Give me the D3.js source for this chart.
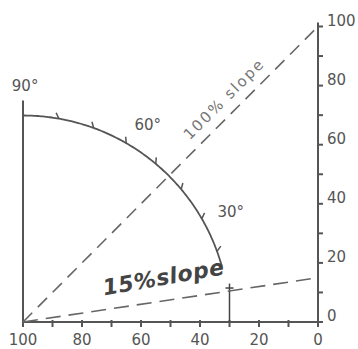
<!DOCTYPE html>
<html>
<head>
<meta charset="utf-8">
<script src="https://cdn.jsdelivr.net/npm/d3@7"></script>
<style>
  body { margin: 0; background: #fff; }
  text { font-family: "DejaVu Sans", sans-serif; fill: #555; }
</style>
</head>
<body>
<div id="chart"></div>
<script>
// values
var xTicks = [100, 90, 80, 70, 60, 50, 40, 30, 20, 10, 0];
var xLabels = [100, 80, 60, 40, 20, 0];
var yTicks = [0, 10, 20, 30, 40, 50, 60, 70, 80, 90, 100];
var yLabels = [0, 20, 40, 60, 80, 100];
var slopes = [100, 15];               // percent
var slopeNames = ["100% slope", "15%slope"];
var arcRadius = 70;                   // in axis units
var arcEndDeg = 15.5;
var arcTickDeg = [20, 30, 40, 50, 60, 70, 80];
var arcLabelDeg = [90, 60, 30];
var runValue = 30;                    // where the arc meets the base
var poleTop = 75;

var width = 358, height = 349;

var svg = d3.select("#chart").append("svg")
    .attr("width", width)
    .attr("height", height);

var x = d3.scaleLinear().domain([100, 0]).range([23, 318]);
var y = d3.scaleLinear().domain([0, 100]).range([322, 26.5]);
var unit = (x(0) - x(100)) / 100;     // px per axis unit

var ox = x(100), oy = y(0);
function polar(r, deg) {
  var a = deg * Math.PI / 180;
  return [ox + r * unit * Math.cos(a), oy - r * unit * Math.sin(a)];
}

// bottom axis
svg.append("line")
    .attr("x1", x(100)).attr("x2", x(0) + 4)
    .attr("y1", oy).attr("y2", oy)
    .style("stroke", "#555").style("stroke-width", 2);

svg.selectAll(".xtick")
    .data(xTicks)
    .enter()
    .append("line")
    .attr("x1", d => x(d)).attr("x2", d => x(d))
    .attr("y1", oy - 2).attr("y2", oy + 5)
    .style("stroke", "#555").style("stroke-width", 2);

svg.selectAll(".xlab")
    .data(xLabels)
    .enter()
    .append("text")
    .attr("x", d => x(d))
    .attr("y", 345)
    .attr("text-anchor", "middle")
    .style("font-size", "15px")
    .text(d => d);

// right axis
svg.append("line")
    .attr("x1", x(0)).attr("x2", x(0))
    .attr("y1", y(100) - 4).attr("y2", oy + 5)
    .style("stroke", "#555").style("stroke-width", 2);

svg.selectAll(".ytick")
    .data(yTicks)
    .enter()
    .append("line")
    .attr("x1", x(0)).attr("x2", x(0) + 5)
    .attr("y1", d => y(d)).attr("y2", d => y(d))
    .style("stroke", "#555").style("stroke-width", 2);

svg.selectAll(".ylab")
    .data(yLabels)
    .enter()
    .append("text")
    .attr("x", x(0) + 9)
    .attr("y", d => y(d) - 1)
    .style("font-size", "15px")
    .text(d => d);

// vertical pole at 90 degrees
svg.append("line")
    .attr("x1", ox).attr("x2", ox)
    .attr("y1", y(poleTop)).attr("y2", oy)
    .style("stroke", "#555").style("stroke-width", 2);

// quarter circle arc
var arcPts = d3.range(90, arcEndDeg - 0.01, -0.5).map(d => polar(arcRadius, d));
svg.append("path")
    .attr("d", d3.line()(arcPts))
    .style("fill", "none")
    .style("stroke", "#555").style("stroke-width", 1.8);

svg.selectAll(".arctick")
    .data(arcTickDeg)
    .enter()
    .append("line")
    .attr("x1", d => polar(arcRadius, d)[0])
    .attr("y1", d => polar(arcRadius, d)[1])
    .attr("x2", d => polar(arcRadius + 1.8, d + 1)[0])
    .attr("y2", d => polar(arcRadius + 1.8, d + 1)[1])
    .style("stroke", "#555").style("stroke-width", 1.5);

svg.selectAll(".arclab")
    .data(arcLabelDeg)
    .enter()
    .append("text")
    .attr("x", d => polar(79, d - 1.5)[0] + (d == 90 ? -4 : 3))
    .attr("y", d => polar(79, d - 1.5)[1] + (d == 90 ? -3 : 2))
    .attr("text-anchor", "middle")
    .attr("dominant-baseline", "middle")
    .style("font-size", "15px")
    .text(d => d + "\u00b0");

// run line down to the base
svg.append("line")
    .attr("x1", x(runValue)).attr("x2", x(runValue))
    .attr("y1", y(13)).attr("y2", oy)
    .style("stroke", "#444").style("stroke-width", 1.5);
svg.append("line")
    .attr("x1", x(runValue) - 4).attr("x2", x(runValue) + 4)
    .attr("y1", y(11.5)).attr("y2", y(11.5))
    .style("stroke", "#444").style("stroke-width", 1.5);

// slope lines
svg.selectAll(".slope")
    .data(slopes)
    .enter()
    .append("line")
    .attr("x1", ox).attr("y1", oy)
    .attr("x2", x(0)).attr("y2", d => y(d))
    .style("stroke", "#666")
    .style("stroke-width", 1.6)
    .style("stroke-dasharray", (d, i) => i == 0 ? "13,8" : "15,8");

// slope names
var ang100 = Math.atan2(y(0) - y(100), x(0) - x(100)) * 180 / Math.PI;
svg.append("text")
    .attr("transform", "translate(" + (ox + 56.5 * unit) + "," + (oy - 61.5 * unit) + ") rotate(" + (-ang100) + ")")
    .style("font-size", "15px")
    .style("letter-spacing", "2px")
    .style("fill", "#777")
    .text(slopeNames[0]);

var ang15 = Math.atan2(y(0) - y(15), x(0) - x(100)) * 180 / Math.PI;
svg.append("text")
    .attr("transform", "translate(" + (ox + 27.5 * unit) + "," + (oy - 9 * unit) + ") rotate(" + (-ang15 - 1.5) + ")")
    .style("font-size", "22px")
    .style("font-weight", "bold")
    .style("font-style", "italic")
    .style("letter-spacing", "0.5px")
    .style("fill", "#444")
    .text(slopeNames[1]);
</script>
</body>
</html>
